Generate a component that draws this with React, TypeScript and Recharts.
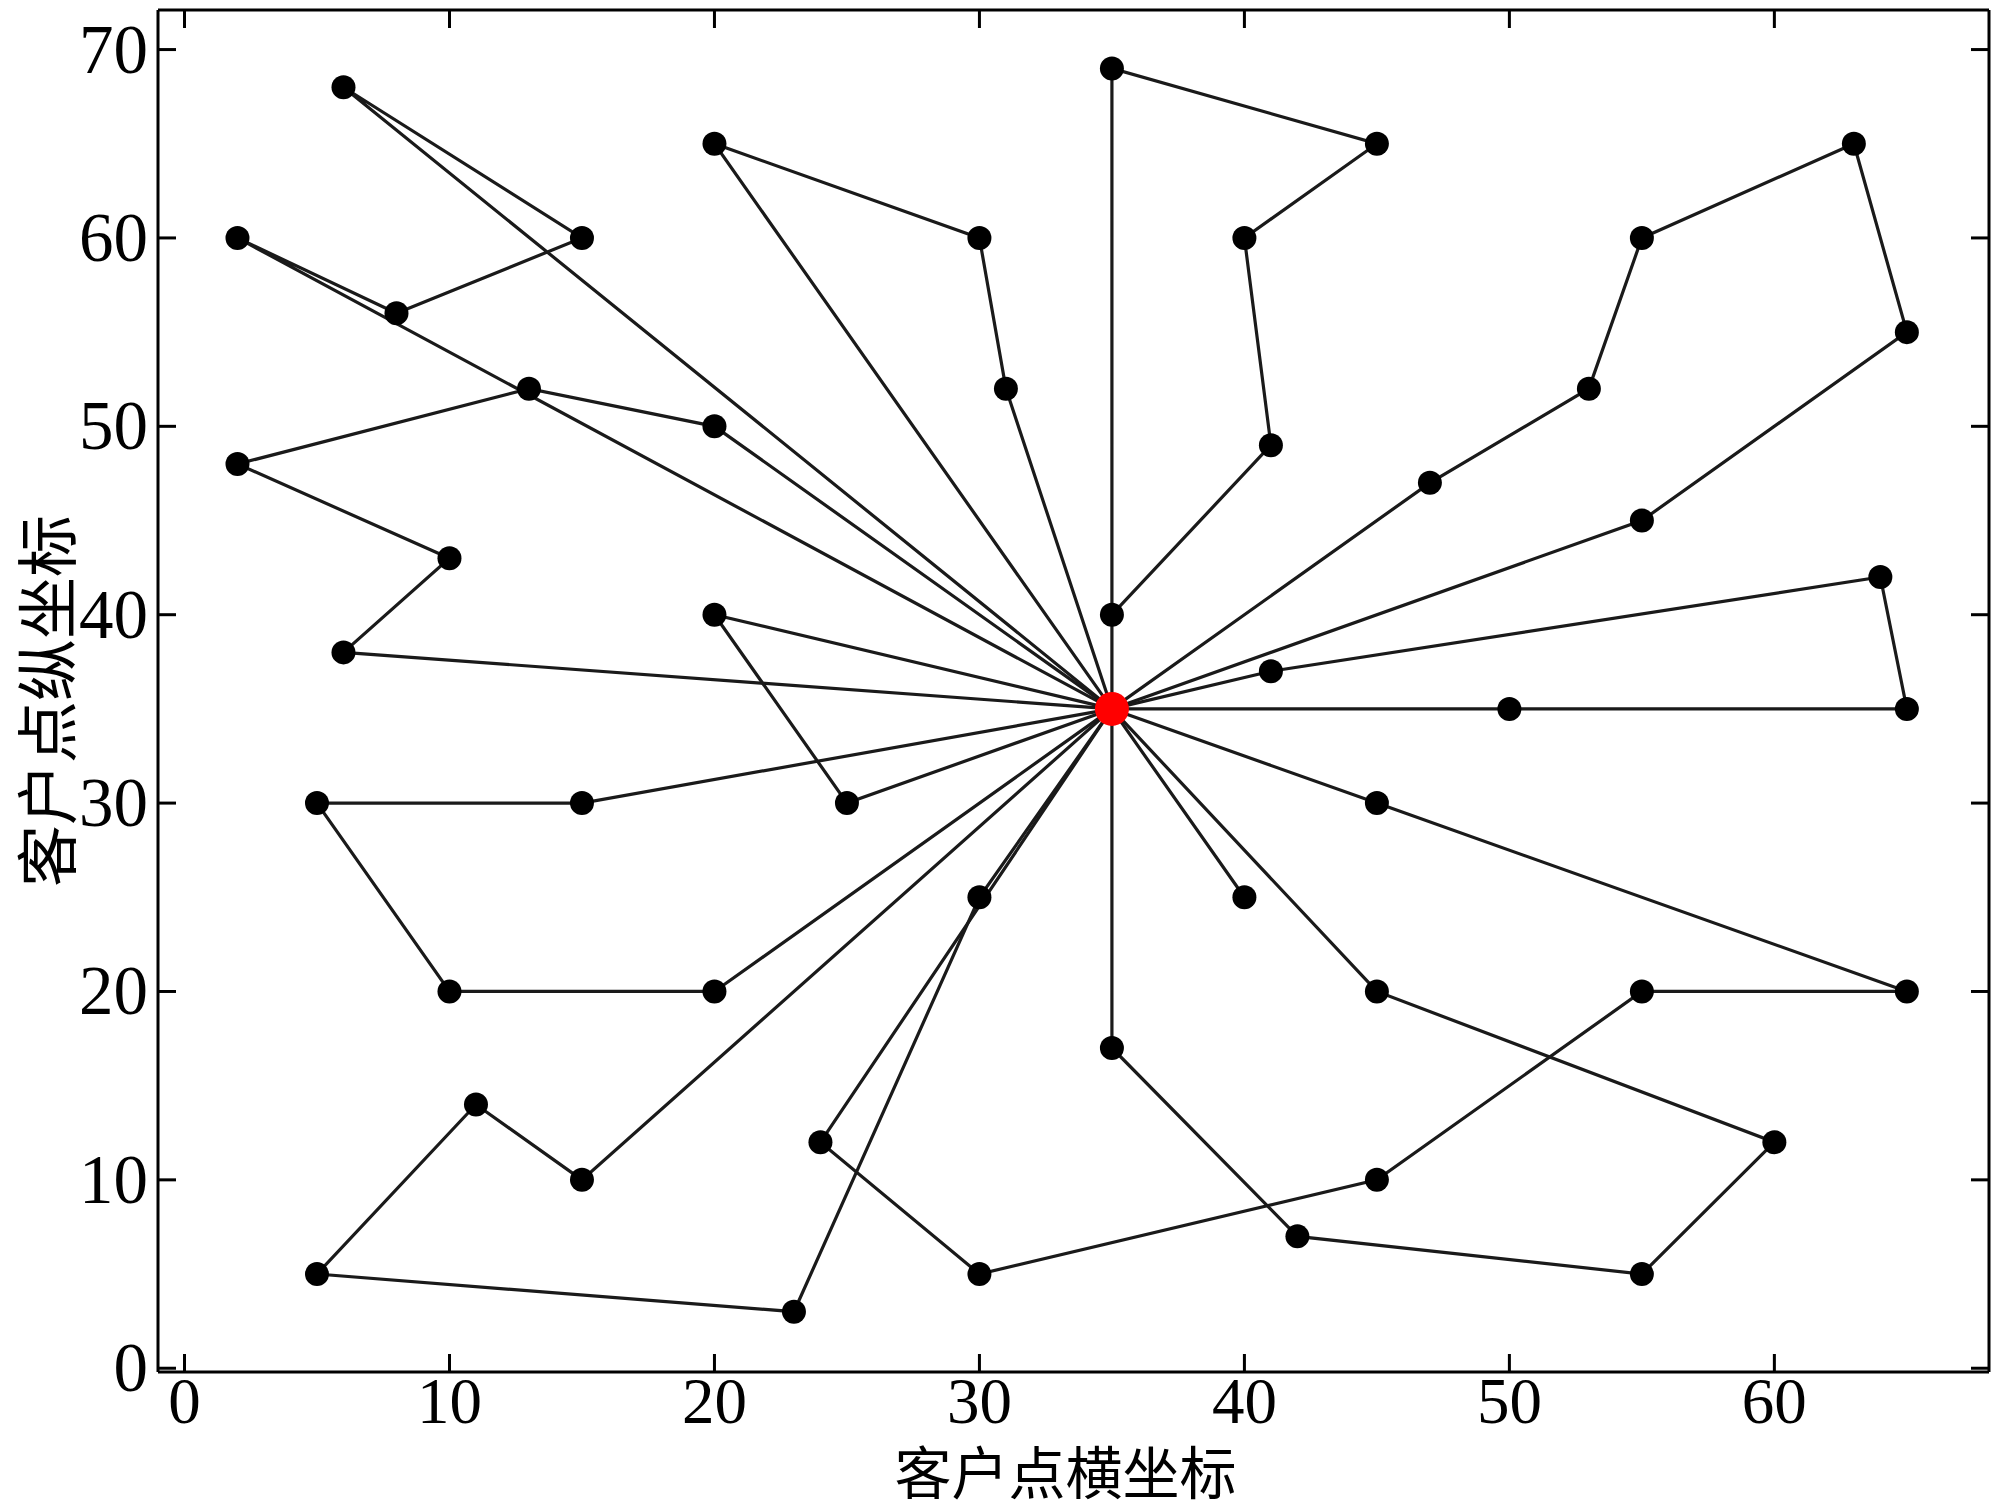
import React from 'react';
import { ScatterChart, Scatter, XAxis, YAxis } from 'recharts';

// depot (red) and the customer routes, each route leaves and returns to the depot
const depot = [35, 35];

const routeA = [[6, 68], [15, 60], [8, 56], [2, 60]];
const routeB = [[20, 50], [13, 52], [2, 48], [10, 43], [6, 38]];
const routeC = [[31, 52], [30, 60], [20, 65]];
const routeD = [[35, 69], [45, 65], [40, 60], [41, 49], [35, 40]];
const routeE = [[47, 47], [53, 52], [55, 60], [63, 65], [65, 55], [55, 45]];
const routeF = [[50, 35], [65, 35], [64, 42], [41, 37]];
const routeG = [[45, 30], [65, 20], [55, 20], [45, 10], [30, 5], [24, 12]];
const routeH = [[15, 10], [11, 14], [5, 5], [23, 3], [30, 25]];
const routeI = [[15, 30], [5, 30], [10, 20], [20, 20]];
const routeJ = [[20, 40], [25, 30]];
const routeK = [[40, 25]];
const routeL = [[35, 17], [42, 7], [55, 5], [60, 12], [45, 20]];

const routes = [routeA, routeB, routeC, routeD, routeE, routeF, routeG, routeH, routeI, routeJ, routeK, routeL];

const xTicks = [0, 10, 20, 30, 40, 50, 60];
const yTicks = [0, 10, 20, 30, 40, 50, 60, 70];

const toPoint = (p: number[]) => ({ x: p[0], y: p[1] });
const routeData = routes.map(r => [depot, ...r, depot].map(toPoint));
const customers = routes.flat().map(toPoint);
const depotData = [toPoint(depot)];

const SERIF = '"Liberation Serif", "Times New Roman", serif';
const CJK = '"Noto Sans CJK SC", "Noto Sans CJK JP", sans-serif';
const TICK_LEN = 18;

const BottomTick = (props: any) => {
  const { x, y, payload } = props;
  return (
    <g>
      <line x1={x} y1={y} x2={x} y2={y - TICK_LEN} stroke="#000" strokeWidth={3} />
      <text x={x} y={y + 51} textAnchor="middle" fontFamily={SERIF} fontSize={65} fill="#000">
        {payload.value}
      </text>
    </g>
  );
};

const LeftTick = (props: any) => {
  const { x, y, payload } = props;
  return (
    <g>
      <line x1={x} y1={y} x2={x + TICK_LEN} y2={y} stroke="#000" strokeWidth={3} />
      <text x={x - 10} y={y + 23} textAnchor="end" fontFamily={SERIF} fontSize={69} fill="#000">
        {payload.value}
      </text>
    </g>
  );
};

const TopTick = (props: any) => {
  const { x, y } = props;
  return <line x1={x} y1={y} x2={x} y2={y + TICK_LEN} stroke="#000" strokeWidth={3} />;
};

const RightTick = (props: any) => {
  const { x, y } = props;
  return <line x1={x} y1={y} x2={x - TICK_LEN} y2={y} stroke="#000" strokeWidth={3} />;
};

const NoDot = () => <g />;
const CustomerDot = (props: any) => <circle cx={props.cx} cy={props.cy} r={12} fill="#000" />;
const DepotDot = (props: any) => <circle cx={props.cx} cy={props.cy} r={17} fill="#ff0000" />;

export default function App() {
  const xDomain = [-1, 68.1];
  const yDomain = [-0.2, 72.1];
  return (
    <div style={{ position: 'absolute', left: 0, top: 0, background: '#fff' }}>
      <ScatterChart width={2000} height={1510} margin={{ top: 9, right: 10, bottom: 0, left: 0 }}>
        <XAxis
          type="number"
          dataKey="x"
          domain={xDomain}
          ticks={xTicks}
          interval={0}
          allowDataOverflow
          height={138}
          tickSize={0}
          tickMargin={0}
          tickLine={false}
          tick={<BottomTick />}
          axisLine={{ stroke: '#000', strokeWidth: 3 }}
          label={{
            content: (p: any) => {
              const vb = p.viewBox;
              return (
                <text x={vb.x + vb.width / 2 - 8} y={1494} textAnchor="middle" fontFamily={CJK} fontSize={57} fill="#000">
                  客户点横坐标
                </text>
              );
            },
          }}
        />
        <XAxis
          xAxisId="top"
          orientation="top"
          type="number"
          dataKey="x"
          domain={xDomain}
          ticks={xTicks}
          interval={0}
          allowDataOverflow
          height={1}
          tickSize={0}
          tickMargin={0}
          tickLine={false}
          tick={<TopTick />}
          axisLine={{ stroke: '#000', strokeWidth: 3 }}
        />
        <YAxis
          type="number"
          dataKey="y"
          domain={yDomain}
          ticks={yTicks}
          interval={0}
          allowDataOverflow
          width={158}
          tickSize={0}
          tickMargin={0}
          tickLine={false}
          tick={<LeftTick />}
          axisLine={{ stroke: '#000', strokeWidth: 3 }}
          label={{
            content: (p: any) => {
              const vb = p.viewBox;
              const cy = vb.y + vb.height / 2 + 10;
              return (
                <text
                  x={44}
                  y={cy}
                  transform={`rotate(-90, 44, ${cy})`}
                  textAnchor="middle"
                  dominantBaseline="central"
                  fontFamily={CJK}
                  fontSize={62}
                  fill="#000"
                >
                  客户点纵坐标
                </text>
              );
            },
          }}
        />
        <YAxis
          yAxisId="right"
          orientation="right"
          type="number"
          dataKey="y"
          domain={yDomain}
          ticks={yTicks}
          interval={0}
          allowDataOverflow
          width={1}
          tickSize={0}
          tickMargin={0}
          tickLine={false}
          tick={<RightTick />}
          axisLine={{ stroke: '#000', strokeWidth: 3 }}
        />
        {routeData.map((d, i) => (
          <Scatter
            key={`route-${i}`}
            data={d}
            line={{ stroke: '#1a1a1a', strokeWidth: 3.2 }}
            lineType="joint"
            shape={<NoDot />}
            isAnimationActive={false}
          />
        ))}
        <Scatter data={customers} shape={<CustomerDot />} isAnimationActive={false} />
        <Scatter
          data={depotData}
          xAxisId="top"
          yAxisId="right"
          shape={<DepotDot />}
          isAnimationActive={false}
        />
      </ScatterChart>
    </div>
  );
}
